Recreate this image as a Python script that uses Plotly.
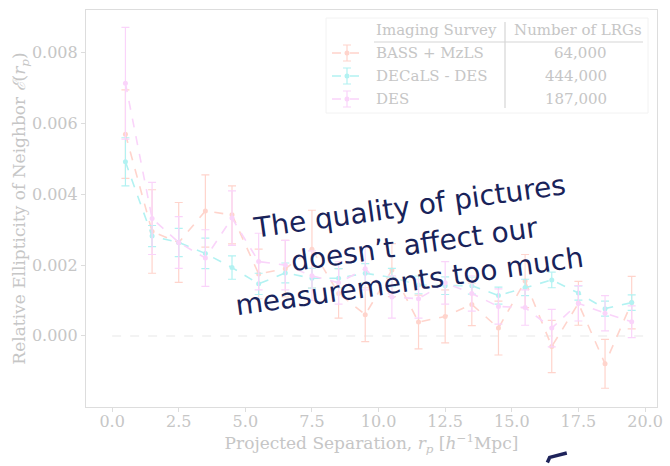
import plotly.graph_objects as go

# ---------------- data ----------------
rp = [0.5, 1.5, 2.5, 3.5, 4.5, 5.5, 6.5, 7.5, 8.5, 9.5,
      10.5, 11.5, 12.5, 13.5, 14.5, 15.5, 16.5, 17.5, 18.5, 19.5]

bass_y = [5.70, 2.95, 2.64, 3.53, 3.42, 1.75, 1.90, 2.45, 1.20, 0.60,
          1.86, 0.39, 0.55, 0.89, 0.22, 1.55, -0.30, 0.92, -0.79, 0.94]
bass_err = [1.25, 1.18, 1.13, 1.02, 0.82, 0.70, 0.80, 1.10, 0.70, 0.76,
            0.75, 0.76, 0.75, 0.60, 0.76, 0.75, 0.74, 0.62, 0.69, 0.74]

decals_y = [4.92, 2.82, 2.64, 2.33, 1.93, 1.47, 1.78, 1.63, 1.63, 1.77,
            1.65, 1.44, 1.42, 1.42, 1.14, 1.37, 1.58, 1.21, 0.77, 0.94]
decals_err = [0.68, 0.30, 0.40, 0.43, 0.33, 0.30, 0.28, 0.28, 0.27, 0.27,
              0.26, 0.25, 0.25, 0.24, 0.24, 0.23, 0.22, 0.20, 0.21, 0.22]

des_y = [7.14, 3.32, 2.64, 2.20, 3.33, 2.10, 2.00, 1.70, 1.50, 1.90,
         1.10, 1.05, 1.50, 1.20, 0.83, 0.80, 0.22, 0.92, 0.64, 0.40]
des_err = [1.58, 1.02, 0.73, 0.80, 0.77, 0.80, 0.70, 0.70, 0.60, 0.60,
           0.60, 0.55, 0.60, 0.50, 0.50, 0.50, 0.53, 0.50, 0.50, 0.45]

surveys = ["BASS + MzLS", "DECaLS - DES", "DES"]
n_lrgs = ["64,000", "444,000", "187,000"]

note_lines = ["The quality of pictures", "doesn’t affect our", "measurements too much"]

zero_x = [0, 20]
zero_y = [0, 0]

scale = 1e-3
series = [
    (bass_y, bass_err, "rgb(255,212,204)"),
    (decals_y, decals_err, "rgb(178,242,242)"),
    (des_y, des_err, "rgb(250,212,250)"),
]

GREY_TXT = "#c6c6c6"
FONT = "DejaVu Serif"

fig = go.Figure()

fig.add_trace(go.Scatter(x=zero_x, y=zero_y, mode="lines",
                         line=dict(color="#f0f0f0", width=1.5, dash="dash"),
                         showlegend=False, hoverinfo="skip"))

for (ys, es, col), name in zip(series, surveys):
    fig.add_trace(go.Scatter(
        x=rp, y=[v * scale for v in ys], mode="lines+markers", name=name,
        line=dict(color=col, width=1.6, dash="dash"),
        marker=dict(color=col, size=5),
        error_y=dict(type="data", array=[e * scale for e in es], color=col,
                     thickness=1.2, width=4),
        showlegend=False))

# ---------------- legend table (pixel-like overlay axis) ----------------
row_y = [53, 76, 99]
for (ys, es, col), ry in zip(series, row_y):
    fig.add_trace(go.Scatter(x=[332, 362], y=[ry, ry], mode="lines",
                             line=dict(color=col, width=1.6, dash="dash"),
                             xaxis="x2", yaxis="y2", showlegend=False, hoverinfo="skip"))
    fig.add_trace(go.Scatter(x=[347], y=[ry], mode="markers",
                             marker=dict(color=col, size=5),
                             error_y=dict(type="data", array=[8], color=col,
                                          thickness=1.2, width=4),
                             xaxis="x2", yaxis="y2", showlegend=False, hoverinfo="skip"))

shapes = [
    dict(type="rect", xref="x2", yref="y2", x0=326, x1=648, y0=18, y1=113,
         line=dict(color="#f2f2f2", width=1), fillcolor="rgba(255,255,255,0.8)", layer="below"),
    dict(type="line", xref="x2", yref="y2", x0=374, x1=643, y0=42, y1=42,
         line=dict(color="#d6d6d6", width=1.2)),
    dict(type="line", xref="x2", yref="y2", x0=505, x1=505, y0=22, y1=108,
         line=dict(color="#d6d6d6", width=1.2)),
    # small stray brush stroke at the bottom
    dict(type="path", xref="paper", yref="paper",
         path="M 0.808 -0.140 L 0.812 -0.127 L 0.842 -0.116",
         line=dict(color="rgb(30,35,90)", width=3.5)),
]

LEG_FONT = dict(family=FONT, size=15, color=GREY_TXT)
annotations = [
    dict(xref="x2", yref="y2", x=374, y=30, text="Imaging Survey", showarrow=False,
         xanchor="left", yanchor="middle", font=LEG_FONT),
    dict(xref="x2", yref="y2", x=512, y=30, text="Number of LRGs", showarrow=False,
         xanchor="left", yanchor="middle", font=LEG_FONT),
]
for name, num, ry in zip(surveys, n_lrgs, row_y):
    annotations.append(dict(xref="x2", yref="y2", x=374, y=ry, text=name, showarrow=False,
                            xanchor="left", yanchor="middle", font=LEG_FONT))
    annotations.append(dict(xref="x2", yref="y2", x=609, y=ry, text=num, showarrow=False,
                            xanchor="right", yanchor="middle", font=LEG_FONT))

note_pos = [(0.567, 0.505), (0.576, 0.410), (0.567, 0.315)]
for line, (px, py) in zip(note_lines, note_pos):
    annotations.append(dict(
        xref="paper", yref="paper", x=px, y=py, text=line,
        xanchor="center", yanchor="middle",
        showarrow=False, textangle=-8,
        font=dict(family="DejaVu Sans", size=28, color="rgb(25,35,90)",
                  shadow="0px 0px 6px white")))

axis_common = dict(showgrid=False, zeroline=False, showline=True, mirror=True,
                   linecolor="#dddddd", linewidth=1.2, ticks="outside", ticklen=4,
                   tickcolor="#dddddd", automargin=False,
                   tickfont=dict(family=FONT, size=16, color=GREY_TXT))

fig.update_layout(
    width=670, height=466,
    margin=dict(l=86, r=13, t=10, b=59),
    paper_bgcolor="white", plot_bgcolor="white",
    xaxis=dict(range=[-0.98, 20.45], tickvals=[0, 2.5, 5, 7.5, 10, 12.5, 15, 17.5, 20],
               ticktext=["0.0", "2.5", "5.0", "7.5", "10.0", "12.5", "15.0", "17.5", "20.0"],
               ticklabelstandoff=-4,
               title=dict(text="Projected Separation, <i>r</i><sub><i>p</i></sub> [<i>h</i><sup>−1</sup>Mpc]",
                          font=dict(family=FONT, size=17, color=GREY_TXT), standoff=0),
               **axis_common),
    yaxis=dict(range=[-0.00201, 0.00921], tickvals=[0, 0.002, 0.004, 0.006, 0.008],
               ticktext=["0.000", "0.002", "0.004", "0.006", "0.008"],
               title=dict(text="Relative Ellipticity of Neighbor <i>ℰ</i>(<i>r</i><sub><i>p</i></sub>)",
                          font=dict(family=FONT, size=17, color=GREY_TXT), standoff=0),
               **axis_common),
    xaxis2=dict(overlaying="x", range=[86, 657], visible=False, fixedrange=True),
    yaxis2=dict(overlaying="y", range=[407, 10], visible=False, fixedrange=True),
    shapes=shapes, annotations=annotations, showlegend=False,
)

fig.write_html("out.html", config={"displayModeBar": False},
               post_script="document.body.style.margin='0';")
